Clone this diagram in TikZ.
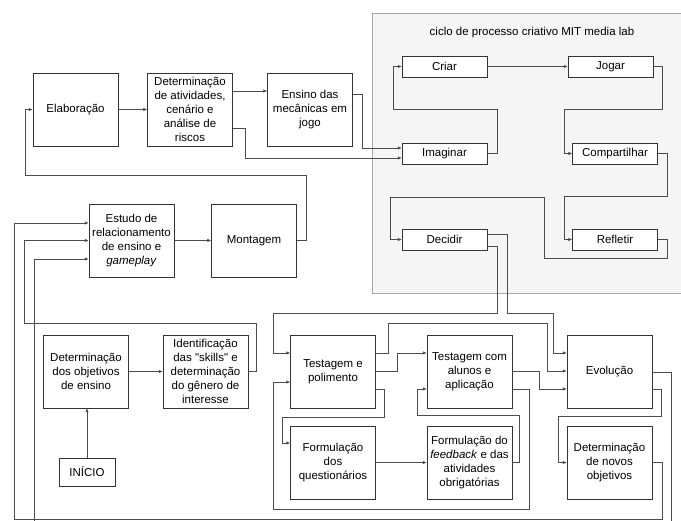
\documentclass[tikz,border=0pt]{standalone}
\usepackage{fontspec}
\newfontfamily\helv{Liberation Sans}
\usepackage{tikz}
\usetikzlibrary{arrows.meta}
\tikzstyle{block}=[draw=black!80,fill=white,minimum width=85pt,minimum height=73pt,inner sep=1pt,align=center]
\tikzstyle{stage}=[draw=black!80,fill=white,minimum width=85pt,minimum height=21pt,inner sep=1pt]
\tikzstyle{edge} = [draw,thick,-]

\begin{document}
\begin{tikzpicture}[x=1pt,y=-1pt,every node/.style={font=\helv\fontsize{11.5}{14}\selectfont}]
      \tikzset{edge/.style = {draw=black!70,line width=0.7pt,->,>={Latex[length=4pt,width=3.4pt]}}}
      \useasboundingbox (0,0) rectangle (681,521);
      \draw[draw=black!35,fill=black!4,line width=0.7pt] (372,13) rectangle (684,293);
      \node (titulo) at (532,33) {ciclo de processo criativo MIT media lab};
      \node[block] (elab) at (75.5,109.5) {Elaboração};
      \node[block] (ativ) at (190,109.5) {Determinação\\de atividades,\\cenário e\\análise de\\riscos};
      \node[block] (mecan) at (310,109.5) {Ensino das\\mecânicas em\\jogo};
      \node[block] (estudo) at (131.5,240.5) {Estudo de\\relacionamento\\de ensino e\\\textit{gameplay}};
      \node[block] (mont) at (254,240.5) {Montagem};
      \node[block] (objet) at (86,371.5) {Determinação\\dos objetivos\\de ensino};
      \node[block] (skills) at (205.5,371.5) {Identificação\\das "skills" e\\determinação\\do gênero de\\interesse};
      \node[stage,minimum width=56pt,minimum height=28pt] (inicio) at (87,472) {INÍCIO};
      \node[block] (testpol) at (333,372) {Testagem e\\polimento};
      \node[block] (testal) at (469.5,372) {Testagem com\\alunos e\\aplicação};
      \node[block] (evol) at (609.5,372) {Evolução};
      \node[block] (questio) at (333,462.5) {Formulação\\dos\\questionários};
      \node[block] (feedb) at (469.5,462.5) {Formulação do\\\textit{feedback} e das\\atividades\\obrigatórias};
      \node[block] (novos) at (609.5,462.5) {Determinação\\de novos\\objetivos};
      \node[stage] (criar) at (444.5,66.5) {Criar};
      \node[stage] (jogar) at (610.5,66.5) {Jogar};
      \node[stage] (imag) at (444.5,153.5) {Imaginar};
      \node[stage] (compart) at (615,153.5) {Compartilhar};
      \node[stage] (decid) at (444.5,239.5) {Decidir};
      \node[stage] (reflet) at (615,239.5) {Refletir};
      \draw[edge] (elab.east) -- (ativ.west);
      \draw[edge] ([yshift=18.5pt]ativ.east) -- ([yshift=18.5pt]mecan.west);
      \draw[edge] ([yshift=-18.5pt]ativ.east) -| (245,158) -- ([yshift=-4.5pt]imag.west);
      \draw[edge] ([yshift=15.5pt]mecan.east) -| (362,148) -- ([yshift=5.5pt]imag.west);
      \draw[edge] (imag.east) -| (497,109) -| (393,66.5) -- (criar.west);
      \draw[edge] (criar.east) -- (jogar.west);
      \draw[edge] (jogar.east) -| (662,109) -| (564,153.5) -- (compart.west);
      \draw[edge] (compart.east) -| (667,196) -| (564,239.5) -- (reflet.west);
      \draw[edge] (reflet.east) -| (667,258) -| (544,197) -| (390,239.5) -- (decid.west);
      \draw[edge] ([yshift=-6.5pt]decid.east) -| (497,313) -| (273,353) -- ([yshift=19pt]testpol.west);
      \draw[edge] ([yshift=5.5pt]decid.east) -| (507,313) -| (553,353) -- ([yshift=19pt]evol.west);
      \draw[edge] ([yshift=19pt]testpol.east) -| (388,323) -| (547,371) -- ([yshift=1pt]evol.west);
      \draw[edge] ([yshift=1pt]testpol.east) -| (397,353) -- ([yshift=19pt]testal.west);
      \draw[edge] ([yshift=-17pt]testpol.east) -| (384,417) -| (282,443) -- ([yshift=19.5pt]questio.west);
      \draw[edge] (questio.east) -- (feedb.west);
      \draw[edge] (feedb.east) -| (519,415) -| (417,389) -- ([yshift=-17pt]testal.west);
      \draw[edge] ([yshift=1pt]testal.east) -| (539,389) -- ([yshift=-17pt]evol.west);
      \draw[edge] ([yshift=-17pt]testal.east) -| (529,509) -| (273,382) -- ([yshift=-10pt]testpol.west);
      \draw[edge] ([yshift=-17pt]evol.east) -| (661,416) -| (558,462.5) -- (novos.west);
      \draw[edge] (evol.east) -| (671,530) -| (34,259) -- ([yshift=-18.5pt]estudo.west);
      \draw[edge] (novos.east) -| (662,519) -| (14,223) -- ([yshift=17.5pt]estudo.west);
      \draw[edge] (skills.east) -| (256,323) -| (24,240.5) -- (estudo.west);
      \draw[edge] (mont.east) -| (306,175) -| (25,109.5) -- (elab.west);
      \draw[edge] (estudo.east) -- (mont.west);
      \draw[edge] (objet.east) -- (skills.west);
      \draw[edge] (inicio.north) -- (inicio.north |- objet.south);
    \end{tikzpicture}
\end{document}
